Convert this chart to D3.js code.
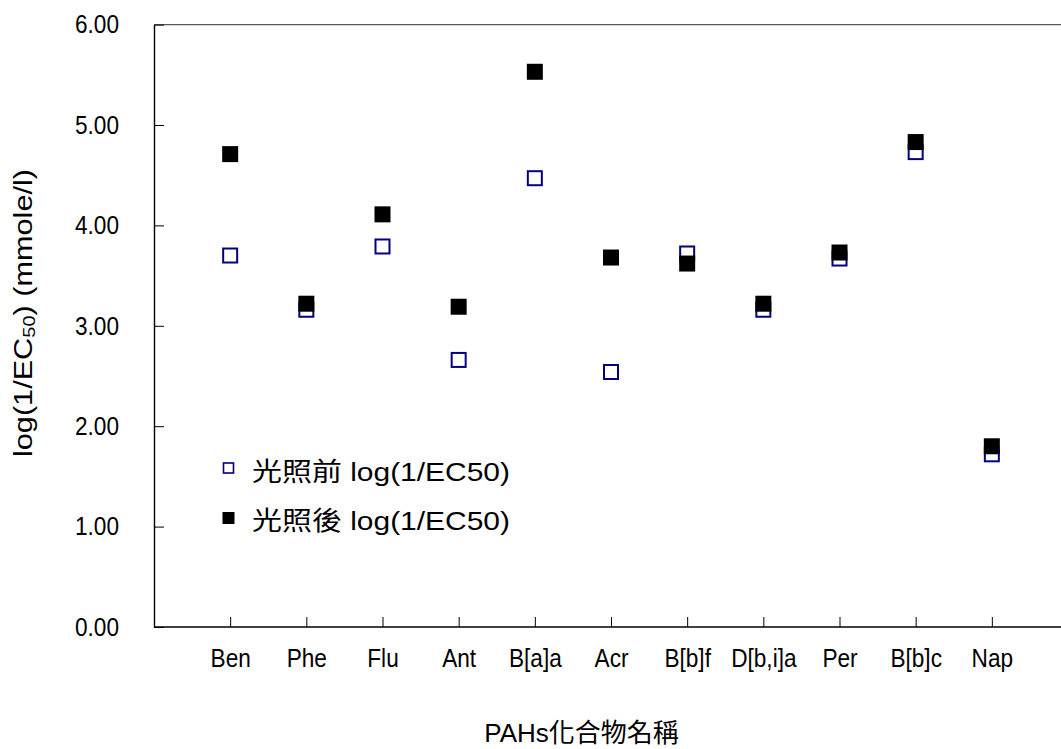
<!DOCTYPE html>
<html>
<head>
<meta charset="utf-8">
<script src="https://cdn.jsdelivr.net/npm/d3@7"></script>
<style>
  html, body { margin: 0; padding: 0; background: #fff; }
  svg { display: block; }
  text { font-family: "Liberation Sans", Arial, "Noto Sans CJK TC", sans-serif; fill: #000; }
</style>
</head>
<body>
<svg id="chart" width="1061" height="749"></svg>
<script>
// PAH compounds (x categories)
const categories = ["Ben", "Phe", "Flu", "Ant", "B[a]a", "Acr", "B[b]f", "D[b,i]a", "Per", "B[b]c", "Nap"];
// log(1/EC50) before irradiation
const beforeLight = [3.70, 3.16, 3.79, 2.66, 4.47, 2.54, 3.72, 3.16, 3.67, 4.73, 1.72];
// log(1/EC50) after irradiation
const afterLight = [4.71, 3.22, 4.11, 3.19, 5.53, 3.68, 3.62, 3.22, 3.73, 4.83, 1.80];
// y-axis ticks
const yTicks = [0, 1, 2, 3, 4, 5, 6];
const seriesNames = ["光照前 log(1/EC50)", "光照後 log(1/EC50)"];

const svg = d3.select("#chart");
const plotLeft = 154, plotRight = 1068, plotTop = 24.6, plotBottom = 627;
const squeeze = 0.87;   // horizontal compression of tick label glyphs

const x = d3.scaleLinear().domain([0, categories.length + 1]).range([plotLeft, plotRight]);
const y = d3.scaleLinear().domain([0, 6]).range([plotBottom, plotTop]);

// top frame line
svg.append("line")
  .attr("x1", plotLeft).attr("x2", 1061)
  .attr("y1", y(6)).attr("y2", y(6))
  .attr("stroke", "#5a5a5a").attr("stroke-width", 1.4);

// y axis
const yAxis = svg.append("g")
  .attr("transform", `translate(${plotLeft},0)`)
  .call(d3.axisLeft(y).tickValues(yTicks).tickFormat(d3.format(".2f")).tickSizeInner(-10).tickSizeOuter(0).tickPadding(35));
yAxis.select(".domain").attr("stroke", "#000").attr("stroke-width", 1.4);
yAxis.selectAll(".tick line").attr("stroke", "#000").attr("stroke-width", 1);
yAxis.selectAll(".tick text")
  .attr("font-size", 26)
  .attr("x", -35 / squeeze)
  .attr("transform", `scale(${squeeze},1)`);

// x axis
const xAxis = svg.append("g")
  .attr("transform", `translate(0,${plotBottom})`)
  .call(d3.axisBottom(x)
    .tickValues(categories.map((c, i) => i + 1))
    .tickFormat((d) => categories[d - 1])
    .tickSizeInner(-10).tickSizeOuter(0).tickPadding(22));
xAxis.select(".domain").attr("d", `M${plotLeft},0H1061`).attr("stroke", "#000").attr("stroke-width", 1.4);
xAxis.selectAll(".tick line").attr("stroke", "#000").attr("stroke-width", 1);
xAxis.selectAll(".tick text")
  .attr("font-size", 26)
  .attr("transform", `scale(${squeeze},1)`);

// markers: open squares (before), then filled squares (after) on top
const size = 16;
svg.append("g").selectAll("rect")
  .data(beforeLight)
  .join("rect")
  .attr("x", (d, i) => x(i + 1) - size / 2 + 1)
  .attr("y", (d) => y(d) - size / 2 + 1)
  .attr("width", size - 2).attr("height", size - 2)
  .attr("fill", "#fff").attr("stroke", "#000080").attr("stroke-width", 2);

svg.append("g").selectAll("rect")
  .data(afterLight)
  .join("rect")
  .attr("x", (d, i) => x(i + 1) - size / 2)
  .attr("y", (d) => y(d) - size / 2)
  .attr("width", size).attr("height", size)
  .attr("fill", "#000");

// legend
const legend = svg.append("g");
legend.append("rect")
  .attr("x", 223.5).attr("y", 463).attr("width", 10).attr("height", 10)
  .attr("fill", "#fff").attr("stroke", "#000080").attr("stroke-width", 1.6);
legend.append("rect")
  .attr("x", 222.5).attr("y", 512).attr("width", 12).attr("height", 12)
  .attr("fill", "#000");
legend.selectAll("text")
  .data(seriesNames)
  .join("text")
  .attr("x", 252)
  .attr("y", (d, i) => 481 + i * 49)
  .attr("font-size", 26)
  .attr("textLength", 258)
  .attr("lengthAdjust", "spacingAndGlyphs")
  .text((d) => d);

// axis titles
svg.append("text")
  .attr("x", 581.5).attr("y", 742)
  .attr("text-anchor", "middle")
  .attr("font-size", 26)
  .text("PAHs化合物名稱");

const yTitle = svg.append("text")
  .attr("transform", "translate(32,313) rotate(-90)")
  .attr("text-anchor", "middle")
  .attr("font-size", 26)
  .attr("textLength", 288)
  .attr("lengthAdjust", "spacingAndGlyphs");
yTitle.append("tspan").text("log(1/EC");
yTitle.append("tspan").attr("font-size", 17).attr("dy", 3).text("50");
yTitle.append("tspan").attr("dy", -3).text(") (mmole/l)");
</script>
</body>
</html>
